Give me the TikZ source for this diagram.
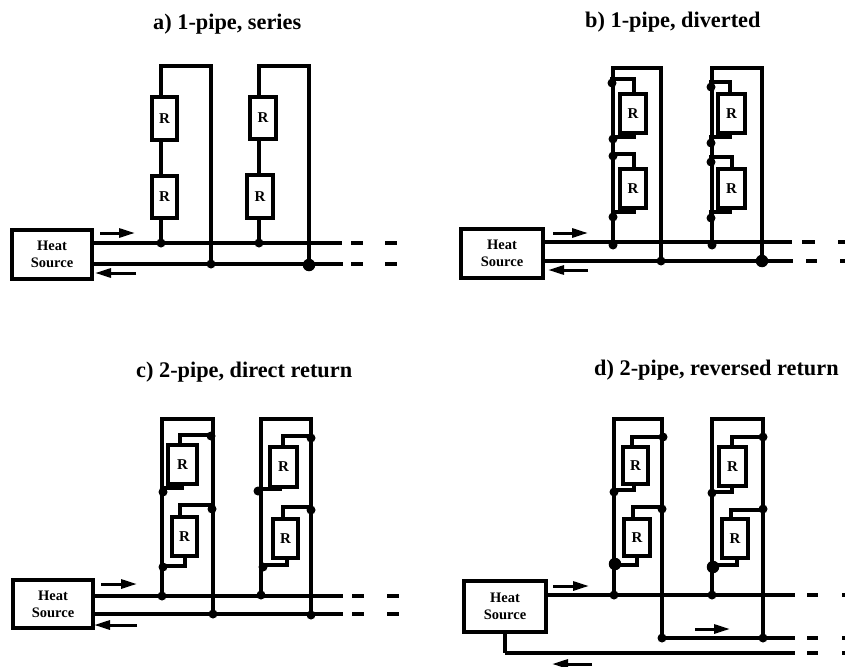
\documentclass[tikz,border=0pt]{standalone}
\usepackage{fontspec}
\setmainfont{Liberation Serif}
\usetikzlibrary{arrows.meta}
\tikzset{
  x=1pt,y=-1pt,
  pipe/.style={line width=3.2pt,line join=miter,black},
  feed/.style={line width=3.1pt,line join=miter,black},
  dashpipe/.style={line width=3.6pt},
  flow/.style={line width=3pt,-{Stealth[length=16pt,width=9pt,inset=0pt]}},
  radbox/.style={draw,line width=3.2pt,fill=white,inner sep=0pt,font=\fontsize{15}{15}\selectfont\bfseries},
  srcbox/.style={draw,line width=3.4pt,fill=white,inner sep=0pt,align=center,font=\fontsize{14.5}{17}\selectfont\bfseries},
  jdot/.style={circle,fill=black,inner sep=0pt,minimum size=9pt},
  bigdot/.style={circle,fill=black,inner sep=0pt,minimum size=12.5pt},
  ttl/.style={anchor=base west,inner sep=0pt,font=\fontsize{22.3}{22.3}\selectfont\bfseries},
}
\newcommand\rad[5]{\node[radbox,minimum width={#4-#2},minimum height={#5-#3}] (#1) at ({(#2+#4)/2},{(#3+#5)/2}) {R};}
\newcommand\src[5]{\node[srcbox,minimum width={#4-#2},minimum height={#5-#3}] (#1) at ({(#2+#4)/2},{(#3+#5)/2}) {Heat\\Source};}
\newcommand\jn[3]{\node[jdot] (#1) at (#2,#3) {};}
\newcommand\bj[3]{\node[bigdot] (#1) at (#2,#3) {};}
\newcommand\flowarrow[4]{\coordinate (#1s) at (#2,#4);\coordinate (#1e) at (#3,#4);\draw[flow] (#1s) -- (#1e);}
\newcommand\mainrun[8]{%
  \coordinate (#1e) at (#4,#3);\draw[pipe] (#2) -- (#1e);
  \coordinate (#1a) at (#5,#3);\coordinate (#1b) at (#6,#3);\draw[dashpipe] (#1a) -- (#1b);
  \coordinate (#1c) at (#7,#3);\coordinate (#1d) at (#8,#3);\draw[dashpipe] (#1c) -- (#1d);}
\newcommand\loopup[3]{\draw[pipe] (#1.center) -- (#1.center |- 0,#2) -- (#3.center |- 0,#2) -- (#3.center);}
\newcommand\branch[5]{\draw[feed] (#1.center) |- (#4,#3) -- (#2.#5 -| #4,0);}
\begin{document}
\begin{tikzpicture}
\useasboundingbox (0,0) rectangle (845,666);
\node[ttl] (ta) at (153,30) {a) 1-pipe, series};
\node[ttl] (tb) at (585,28) {b) 1-pipe, diverted};
\node[ttl] (tc) at (136,377) {c) 2-pipe, direct return};
\node[ttl] (td) at (594,375) {d) 2-pipe, reversed return};

%%%%% panel a
\src{aS}{12}{230}{92}{279}
\jn{aj1}{161}{243}\jn{aj2}{259}{243}\jn{aj3}{211}{264}\bj{aj4}{309}{265}
\mainrun{as}{aS.east |- aj1}{243}{342}{351}{363}{385}{397}
\mainrun{ar}{aS.east |- aj3}{264}{343}{351}{363}{385}{397}
\loopup{aj1}{66}{aj3}
\loopup{aj2}{66}{aj4}
\rad{aR1}{152}{97}{177}{140}\rad{aR2}{152}{176}{177}{218}
\rad{aR3}{250}{97}{276}{139}\rad{aR4}{247}{175}{273}{218}
\flowarrow{afa}{100}{135}{233}\flowarrow{afb}{136}{95}{273}

%%%%% panel b
\src{bS}{461}{229}{543}{278}
\jn{bj1}{613}{245}\jn{bj2}{712}{245}\jn{bj3}{661}{261}\bj{bj4}{762}{261}
\mainrun{bs}{bS.east |- 0,242}{242}{792}{802}{815}{838}{845}
\mainrun{br}{bS.east |- bj3}{261}{793}{806}{817}{840}{845}
\loopup{bj1}{68}{bj3}
\loopup{bj2}{68}{bj4}
\rad{bR1}{620}{94}{646}{133}\rad{bR2}{620}{169}{646}{208}
\rad{bR3}{718}{94}{745}{133}\rad{bR4}{718}{169}{745}{208}
\jn{ba1}{612}{83}\jn{ba2}{613}{139}\jn{ba3}{613}{156}\jn{ba4}{613}{217}
\jn{bb1}{711}{87}\jn{bb2}{711}{143}\jn{bb3}{711}{162}\jn{bb4}{711}{218}
\branch{ba1}{bR1}{79}{634}{north}\branch{ba2}{bR1}{137}{634}{south}
\branch{ba3}{bR2}{154}{634}{north}\branch{ba4}{bR2}{212}{634}{south}
\branch{bb1}{bR3}{82}{730}{north}\branch{bb2}{bR3}{137}{730}{south}
\branch{bb3}{bR4}{157}{732}{north}\branch{bb4}{bR4}{212}{730}{south}
\flowarrow{bfa}{553}{588}{233}\flowarrow{bfb}{588}{548}{270}

%%%%% panel c
\src{cS}{13}{580}{93}{628}
\jn{cj1}{162}{596}\jn{cj2}{261}{595}\jn{cj3}{213}{614}\jn{cj4}{311}{615}
\mainrun{cs}{cS.east |- cj1}{596}{343}{352}{364}{387}{399}
\mainrun{cr}{cS.east |- cj3}{614}{343}{352}{364}{387}{399}
\loopup{cj1}{419}{cj3}
\loopup{cj2}{419}{cj4}
\rad{cR1}{168}{445}{197}{484}\rad{cR2}{172}{517}{197}{556}
\rad{cR3}{270}{447}{297}{487}\rad{cR4}{273}{519}{298}{558}
\jn{ca1}{211}{436}\jn{ca2}{163}{492}\jn{ca3}{212}{509}\jn{ca4}{163}{567}
\jn{cb1}{311}{438}\jn{cb2}{258}{491}\jn{cb3}{311}{510}\jn{cb4}{263}{567}
\branch{ca1}{cR1}{435}{180}{north}\branch{ca2}{cR1}{488}{182}{south}
\branch{ca3}{cR2}{505}{180}{north}\branch{ca4}{cR2}{566}{185}{south}
\branch{cb1}{cR3}{436}{283}{north}\branch{cb2}{cR3}{489}{280}{south}
\branch{cb3}{cR4}{507}{283}{north}\branch{cb4}{cR4}{565}{287}{south}
\flowarrow{cfa}{101}{137}{584}\flowarrow{cfb}{137}{94}{625}

%%%%% panel d
\src{dS}{464}{581}{546}{632}
\jn{dj1}{614}{595}\jn{dj2}{712}{595}\jn{dj3}{662}{638}\jn{dj4}{763}{638}
\mainrun{ds}{dS.east |- dj1}{595}{795}{807}{818}{842}{845}
\mainrun{dm}{dj3.center}{638}{795}{807}{818}{842}{845}
\coordinate (dlow) at (505,653);
\mainrun{dr}{dlow}{653}{795}{807}{818}{842}{845}
\draw[pipe] (dS.south -| dlow) -- (dlow);
\loopup{dj1}{419}{dj3}
\loopup{dj2}{419}{dj4}
\rad{dR1}{623}{447}{648}{484}\rad{dR2}{624}{519}{650}{556}
\rad{dR3}{719}{447}{746}{486}\rad{dR4}{722}{519}{748}{558}
\jn{da1}{663}{437}\jn{da2}{614}{492}\jn{da3}{662}{509}\bj{da4}{615}{564}
\jn{db1}{763}{437}\jn{db2}{712}{493}\jn{db3}{763}{509}\bj{db4}{713}{567}
\branch{da1}{dR1}{437}{632}{north}\branch{da2}{dR1}{490}{634}{south}
\branch{da3}{dR2}{507}{633}{north}\branch{da4}{dR2}{565}{637}{south}
\branch{db1}{dR3}{437}{732}{north}\branch{db2}{dR3}{492}{732}{south}
\branch{db3}{dR4}{510}{731}{north}\branch{db4}{dR4}{565}{737}{south}
\flowarrow{dfa}{553}{589}{586}\flowarrow{dfm}{695}{730}{629}\flowarrow{dfb}{592}{552}{664}
\end{tikzpicture}
\end{document}
